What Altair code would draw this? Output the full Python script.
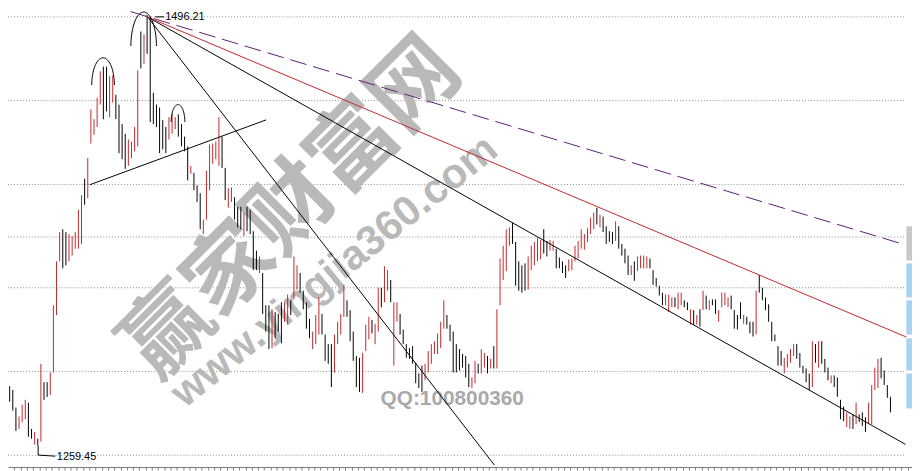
import altair as alt
import numpy as np
import pandas as pd

# ---------------- data: daily bars (high / low / up-day flag) ----------------
HIGHS = [
    1292.1, 1290.0, 1280.3, 1275.5, 1281.9, 1284.6, 1283.0, 1268.6, 1266.9, 1263.2,
    1304.4, 1294.3, 1294.3, 1299.6, 1336.6, 1360.7, 1376.8, 1378.4, 1376.8, 1375.7,
    1374.6, 1376.8, 1389.1, 1397.1, 1406.2, 1417.5, 1444.3, 1438.9, 1450.7, 1465.2,
    1467.8, 1467.8, 1462.5, 1463.0, 1452.3, 1446.9, 1436.2, 1430.9, 1427.7, 1426.6,
    1434.6, 1465.7, 1487.1, 1485.5, 1496.21, 1495.2, 1453.4, 1446.9, 1445.3, 1438.4,
    1434.6, 1440.0, 1441.6, 1440.0, 1441.6, 1436.2, 1429.3, 1423.9, 1413.2, 1409.4,
    1402.5, 1398.2, 1383.7, 1410.5, 1425.0, 1425.5, 1426.6, 1440.0, 1429.3, 1412.1,
    1400.9, 1401.4, 1396.0, 1390.7, 1390.7, 1387.5, 1390.7, 1389.1, 1377.3, 1366.6,
    1363.4, 1354.3, 1336.6, 1336.6, 1334.4, 1332.8, 1331.8, 1338.2, 1338.2, 1342.5,
    1339.3, 1363.4, 1358.5, 1354.3, 1344.6, 1338.2, 1329.1, 1322.1, 1331.2, 1340.9,
    1331.8, 1320.5, 1315.2, 1315.2, 1320.5, 1327.5, 1331.8, 1347.8, 1339.3, 1333.9,
    1322.1, 1308.7, 1307.7, 1310.3, 1325.9, 1330.2, 1328.5, 1326.4, 1346.2, 1346.2,
    1358.0, 1355.9, 1350.5, 1338.2, 1338.2, 1331.8, 1323.2, 1315.2, 1313.0, 1314.1,
    1305.0, 1299.1, 1303.4, 1304.4, 1311.4, 1315.2, 1316.8, 1321.1, 1327.5, 1339.3,
    1331.2, 1325.9, 1322.1, 1315.2, 1312.5, 1309.8, 1308.7, 1304.4, 1296.9, 1306.0,
    1304.4, 1312.5, 1310.3, 1308.7, 1307.1, 1314.1, 1334.4, 1362.3, 1369.3, 1378.4,
    1379.4, 1382.1, 1371.4, 1360.7, 1358.5, 1359.6, 1363.4, 1369.3, 1371.4, 1373.5,
    1372.5, 1378.4, 1371.9, 1372.5, 1371.9, 1367.7, 1362.8, 1360.7, 1358.5, 1361.8,
    1362.3, 1369.3, 1371.9, 1378.4, 1375.7, 1378.9, 1384.8, 1387.5, 1390.2, 1386.4,
    1385.3, 1380.0, 1377.3, 1376.8, 1382.7, 1380.0, 1370.3, 1367.7, 1363.9, 1358.5,
    1360.7, 1363.4, 1363.9, 1363.9, 1363.4, 1362.3, 1355.9, 1351.6, 1347.3, 1343.5,
    1342.5, 1342.5, 1340.9, 1340.9, 1343.5, 1343.5, 1339.3, 1338.2, 1334.4, 1333.9,
    1331.2, 1334.4, 1344.6, 1341.9, 1339.3, 1339.8, 1339.8, 1333.9, 1343.5, 1343.5,
    1340.9, 1341.9, 1333.9, 1331.2, 1338.2, 1331.2, 1330.2, 1327.5, 1327.5, 1344.6,
    1353.2, 1346.2, 1340.9, 1337.1, 1327.5, 1320.5, 1314.1, 1311.4, 1307.7, 1309.8,
    1312.5, 1315.2, 1315.2, 1310.3, 1303.4, 1301.8, 1299.1, 1316.8, 1315.2, 1316.8,
    1316.8, 1307.1, 1302.3, 1298.0, 1298.0, 1296.9, 1284.6, 1280.9, 1277.7, 1275.5,
    1276.6, 1283.0, 1276.6, 1277.7, 1275.0, 1283.0, 1292.7, 1302.3, 1307.1, 1307.7,
    1300.7, 1292.7, 1286.2,
]
LOWS = [
    1283.5, 1278.7, 1267.5, 1268.6, 1272.3, 1273.9, 1264.3, 1263.2, 1260.0, 1259.45,
    1261.6, 1284.6, 1286.2, 1287.3, 1299.6, 1331.2, 1360.7, 1356.9, 1358.5, 1360.7,
    1363.9, 1367.7, 1367.7, 1370.3, 1391.8, 1395.5, 1425.5, 1430.3, 1434.6, 1446.9,
    1438.9, 1443.2, 1440.0, 1448.0, 1438.9, 1420.2, 1416.9, 1411.6, 1413.2, 1417.5,
    1421.2, 1423.9, 1466.8, 1469.4, 1474.8, 1437.3, 1436.2, 1434.6, 1420.2, 1422.3,
    1420.2, 1427.7, 1430.9, 1433.5, 1429.3, 1423.9, 1421.2, 1405.2, 1408.9, 1399.8,
    1393.4, 1378.4, 1375.7, 1383.7, 1399.8, 1414.3, 1416.9, 1413.2, 1412.1, 1394.4,
    1390.2, 1393.4, 1383.7, 1379.4, 1378.4, 1374.6, 1377.3, 1375.7, 1355.9, 1355.9,
    1354.3, 1331.8, 1322.1, 1312.5, 1313.0, 1318.4, 1322.1, 1315.7, 1327.5, 1325.9,
    1331.2, 1339.8, 1345.2, 1343.5, 1334.4, 1323.7, 1318.4, 1312.5, 1315.2, 1320.5,
    1320.5, 1306.0, 1304.4, 1291.6, 1299.6, 1315.2, 1320.5, 1330.2, 1330.2, 1316.8,
    1306.0, 1291.6, 1288.9, 1288.4, 1311.4, 1317.8, 1321.1, 1315.2, 1322.1, 1335.5,
    1338.2, 1344.6, 1338.2, 1303.4, 1327.5, 1320.5, 1315.2, 1307.7, 1307.1, 1304.4,
    1293.7, 1291.1, 1288.9, 1295.3, 1299.6, 1304.4, 1309.8, 1309.8, 1313.0, 1323.7,
    1323.7, 1316.8, 1299.6, 1299.6, 1300.7, 1302.3, 1296.9, 1291.6, 1291.1, 1293.7,
    1299.1, 1299.1, 1302.3, 1299.1, 1301.8, 1301.8, 1301.8, 1336.6, 1350.5, 1355.3,
    1369.3, 1370.3, 1347.3, 1344.6, 1343.5, 1344.6, 1345.2, 1355.9, 1358.5, 1360.7,
    1361.8, 1365.0, 1363.4, 1366.6, 1366.6, 1356.9, 1356.9, 1354.3, 1351.6, 1355.3,
    1355.9, 1360.7, 1362.3, 1367.7, 1367.1, 1371.4, 1375.7, 1378.4, 1381.0, 1379.4,
    1376.8, 1370.3, 1371.4, 1370.3, 1371.9, 1367.7, 1363.9, 1359.6, 1353.2, 1353.2,
    1350.0, 1355.3, 1356.9, 1356.9, 1356.9, 1356.9, 1347.8, 1346.8, 1341.9, 1336.6,
    1336.6, 1332.8, 1335.5, 1335.5, 1334.4, 1336.6, 1335.5, 1333.9, 1325.9, 1325.9,
    1325.9, 1324.8, 1333.9, 1334.4, 1333.9, 1336.6, 1331.8, 1327.5, 1335.5, 1336.6,
    1335.5, 1334.4, 1323.7, 1323.2, 1329.1, 1326.4, 1325.9, 1321.1, 1319.4, 1320.5,
    1343.5, 1339.3, 1333.9, 1327.5, 1316.8, 1316.8, 1303.4, 1303.4, 1299.1, 1302.3,
    1305.0, 1308.7, 1307.1, 1302.3, 1299.1, 1294.3, 1290.0, 1291.6, 1305.0, 1302.3,
    1304.4, 1299.6, 1295.3, 1293.7, 1291.6, 1286.2, 1273.9, 1272.8, 1269.6, 1268.6,
    1268.6, 1271.2, 1272.3, 1270.2, 1266.9, 1271.2, 1271.2, 1290.0, 1291.1, 1296.4,
    1292.7, 1285.7, 1277.7,
]
UP = [
    0, 0, 0, 1, 1, 1, 0, 0, 1, 0,
    1, 0, 0, 1, 1, 1, 1, 0, 0, 1,
    1, 1, 1, 1, 0, 1, 1, 1, 1, 1,
    0, 0, 1, 1, 0, 0, 0, 0, 1, 1,
    1, 1, 0, 1, 0, 0, 0, 0, 0, 0,
    0, 1, 1, 1, 0, 0, 0, 0, 1, 0,
    0, 0, 1, 1, 1, 1, 1, 1, 0, 0,
    1, 1, 0, 0, 0, 1, 0, 0, 0, 0,
    1, 0, 0, 0, 1, 0, 0, 0, 1, 1,
    0, 1, 1, 0, 0, 0, 0, 1, 1, 1,
    0, 0, 0, 0, 1, 1, 1, 1, 0, 0,
    0, 0, 0, 1, 1, 1, 0, 1, 1, 0,
    1, 1, 0, 1, 1, 0, 0, 0, 0, 0,
    0, 0, 0, 1, 1, 1, 1, 1, 1, 1,
    0, 0, 0, 0, 0, 0, 0, 0, 1, 1,
    0, 1, 1, 0, 1, 0, 1, 1, 1, 1,
    1, 0, 0, 0, 0, 0, 1, 1, 1, 1,
    1, 0, 0, 1, 1, 0, 0, 0, 0, 1,
    1, 1, 1, 1, 1, 1, 1, 1, 0, 1,
    0, 0, 0, 0, 1, 0, 0, 0, 0, 1,
    0, 1, 1, 1, 1, 0, 0, 0, 0, 0,
    1, 1, 1, 0, 1, 1, 0, 0, 1, 0,
    1, 0, 1, 0, 1, 0, 0, 1, 1, 1,
    1, 0, 0, 0, 0, 1, 0, 0, 0, 1,
    0, 0, 0, 0, 0, 0, 0, 0, 1, 1,
    1, 1, 0, 0, 0, 0, 0, 1, 0, 1,
    0, 0, 0, 1, 0, 0, 0, 0, 1, 1,
    0, 1, 0, 0, 0, 1, 1, 1, 1, 0,
    0, 0, 0,
]

# horizontal reference levels of the chart grid
GRID_LEVELS = [1495.15, 1449.1, 1403.0, 1374.1, 1346.2, 1300.2, 1254.1]

# trend lines: (bar index, price) end points
FAN_ORIGIN = [44.23, 1495.0]
NECKLINE = [[25.67, 1402.85], [82.1, 1438.5]]
STEEP_END = [155.2, 1248.7]
CHANNEL_END = [286.8, 1260.1]
RED_END = [287.1, 1319.1]
DASHED = [[38.8, 1498.0], [285.8, 1370.3]]

# head-and-shoulders arcs: centre bar, half width (bars), top price, base price
ARC_CENTER = [29.9, 42.9, 53.9]
ARC_HALFWIDTH = [3.62, 4.09, 2.2]
ARC_TOP = [1472.65, 1497.8, 1446.9]
ARC_BASE = [1457.65, 1479.1, 1437.3]

HIGH_LABEL = "1496.21"
LOW_LABEL = "1259.45"

# side tabs (partially visible panel buttons)
TAB_TOP = [1380.0, 1359.6, 1339.3, 1318.4, 1299.1]
TAB_BOTTOM = [1361.2, 1340.9, 1320.5, 1300.7, 1279.8]
TAB_KIND = ["gray", "blue", "blue", "blue", "blue"]

RED = "#c0282d"
X_DOMAIN = [-0.535, 288.9]
Y_DOMAIN = [1247.65, 1498.9]

xs = alt.Scale(domain=X_DOMAIN, nice=False, zero=False)
ys = alt.Scale(domain=Y_DOMAIN, nice=False, zero=False)
TICKS = [1.5 + 2 * k for k in range(144)]
XAX = alt.Axis(values=TICKS, labels=False, grid=False, title=None,
               domainColor="#7a7a7a", tickColor="#7a7a7a", tickSize=3,
               domainWidth=1, tickWidth=1)


def X(field):
    return alt.X(field, type="quantitative", scale=xs, axis=XAX)


def Y(field):
    return alt.Y(field, type="quantitative", scale=ys, axis=None)


bars = pd.DataFrame({
    "i": list(range(len(HIGHS))),
    "high": HIGHS,
    "low": LOWS,
    "dir": ["up" if u else "down" for u in UP],
})

grid = pd.DataFrame({"p": GRID_LEVELS, "x0": X_DOMAIN[0], "x1": 286.6})
grid_layer = alt.Chart(grid).mark_rule(
    color="#8a8a8a", strokeDash=[1, 2], strokeWidth=1
).encode(x=X("x0"), x2="x1:Q", y=Y("p"))

# watermark
wm1 = pd.DataFrame({"i": [90.7], "p": [1389.1], "t": ["赢家财富网"]})
wm2 = pd.DataFrame({"i": [103.9], "p": [1355.3], "t": ["www.yingjia360.com"]})
wm3 = pd.DataFrame({"i": [141.7], "p": [1285.2], "t": ["QQ:100800360"]})
wm_layer1 = alt.Chart(wm1).mark_text(
    font="Noto Sans CJK SC", fontWeight="bold", fontSize=88, angle=315,
    color="#b9b9b9", align="center", baseline="middle"
).encode(x=X("i"), y=Y("p"), text="t:N")
wm_layer2 = alt.Chart(wm2).mark_text(
    font="Liberation Sans", fontWeight="bold", fontSize=42, angle=321,
    color="#b9b9b9", align="center", baseline="middle"
).encode(x=X("i"), y=Y("p"), text="t:N")
wm_layer3 = alt.Chart(wm3).mark_text(
    font="Liberation Sans", fontWeight="bold", fontSize=21,
    color="#a9a9a9", align="center", baseline="middle"
).encode(x=X("i"), y=Y("p"), text="t:N")

bar_layer = alt.Chart(bars).mark_rule(strokeWidth=1).encode(
    x=X("i"), y=Y("low"), y2="high:Q",
    color=alt.Color("dir:N", scale=alt.Scale(domain=["up", "down"], range=[RED, "#000000"]), legend=None),
)

# trend lines
black_rows = []
for name, pts in [("neck", NECKLINE), ("steep", [FAN_ORIGIN, STEEP_END]), ("channel", [FAN_ORIGIN, CHANNEL_END])]:
    for k, (ii, pp) in enumerate(pts):
        black_rows.append({"name": name, "k": k, "i": ii, "p": pp})
black_lines = alt.Chart(pd.DataFrame(black_rows)).mark_line(color="#000000", strokeWidth=1).encode(
    x=X("i"), y=Y("p"), detail="name:N", order="k:Q")

red_df = pd.DataFrame({"k": [0, 1], "i": [FAN_ORIGIN[0], RED_END[0]], "p": [FAN_ORIGIN[1], RED_END[1]]})
red_line = alt.Chart(red_df).mark_line(color=RED, strokeWidth=1).encode(x=X("i"), y=Y("p"), order="k:Q")

dash_df = pd.DataFrame({"k": [0, 1], "i": [DASHED[0][0], DASHED[1][0]], "p": [DASHED[0][1], DASHED[1][1]]})
dash_line = alt.Chart(dash_df).mark_line(color="#5e1f72", strokeWidth=1, strokeDash=[17, 7]).encode(
    x=X("i"), y=Y("p"), order="k:Q")

# arcs over the shoulders / head
arc_rows = []
tt = np.linspace(0, np.pi, 41)
for a in range(len(ARC_CENTER)):
    for k, t in enumerate(tt):
        arc_rows.append({
            "arc": a, "k": k,
            "i": ARC_CENTER[a] + ARC_HALFWIDTH[a] * np.cos(t),
            "p": ARC_BASE[a] + (ARC_TOP[a] - ARC_BASE[a]) * np.sin(t),
        })
arc_layer = alt.Chart(pd.DataFrame(arc_rows)).mark_line(color="#000000", strokeWidth=1).encode(
    x=X("i"), y=Y("p"), detail="arc:N", order="k:Q")

# extreme labels with leaders
lead_rows = [
    {"g": "hi", "k": 0, "i": 46.6, "p": 1495.15},
    {"g": "hi", "k": 1, "i": 49.4, "p": 1495.15},
    {"g": "lo", "k": 0, "i": 9.12, "p": 1259.45},
    {"g": "lo", "k": 1, "i": 9.12, "p": 1254.2},
    {"g": "lo", "k": 2, "i": 14.6, "p": 1253.6},
]
lead_layer = alt.Chart(pd.DataFrame(lead_rows)).mark_line(color="#000000", strokeWidth=1).encode(
    x=X("i"), y=Y("p"), detail="g:N", order="k:Q")
lab_df = pd.DataFrame({"i": [49.8, 15.1], "p": [1495.15, 1253.2], "t": [HIGH_LABEL, LOW_LABEL]})
lab_layer = alt.Chart(lab_df).mark_text(
    font="Liberation Sans", fontSize=11, color="#000000", align="left", baseline="middle"
).encode(x=X("i"), y=Y("p"), text="t:N")

tabs = pd.DataFrame({"x0": 287.1, "x1": X_DOMAIN[1], "top": TAB_TOP, "bot": TAB_BOTTOM, "kind": TAB_KIND})
tab_layer = alt.Chart(tabs).mark_rect().encode(
    x=X("x0"), x2="x1:Q", y=Y("bot"), y2="top:Q",
    color=alt.Color("kind:N", scale=alt.Scale(domain=["gray", "blue"], range=["#c8c8c8", "#a9d1f3"]), legend=None),
)

chart = alt.layer(
    grid_layer, wm_layer1, wm_layer2, wm_layer3, bar_layer,
    black_lines, red_line, dash_line, arc_layer, lead_layer, lab_layer, tab_layer,
).resolve_scale(color="independent").properties(
    width=912, height=461,
    autosize=alt.AutoSizeParams(type="none"),
    padding={"left": 0, "top": 0, "right": 0, "bottom": 4},
    background="#ffffff",
).configure_view(strokeWidth=0)

chart.save("out.html", embed_options={"renderer": "svg", "actions": False})
